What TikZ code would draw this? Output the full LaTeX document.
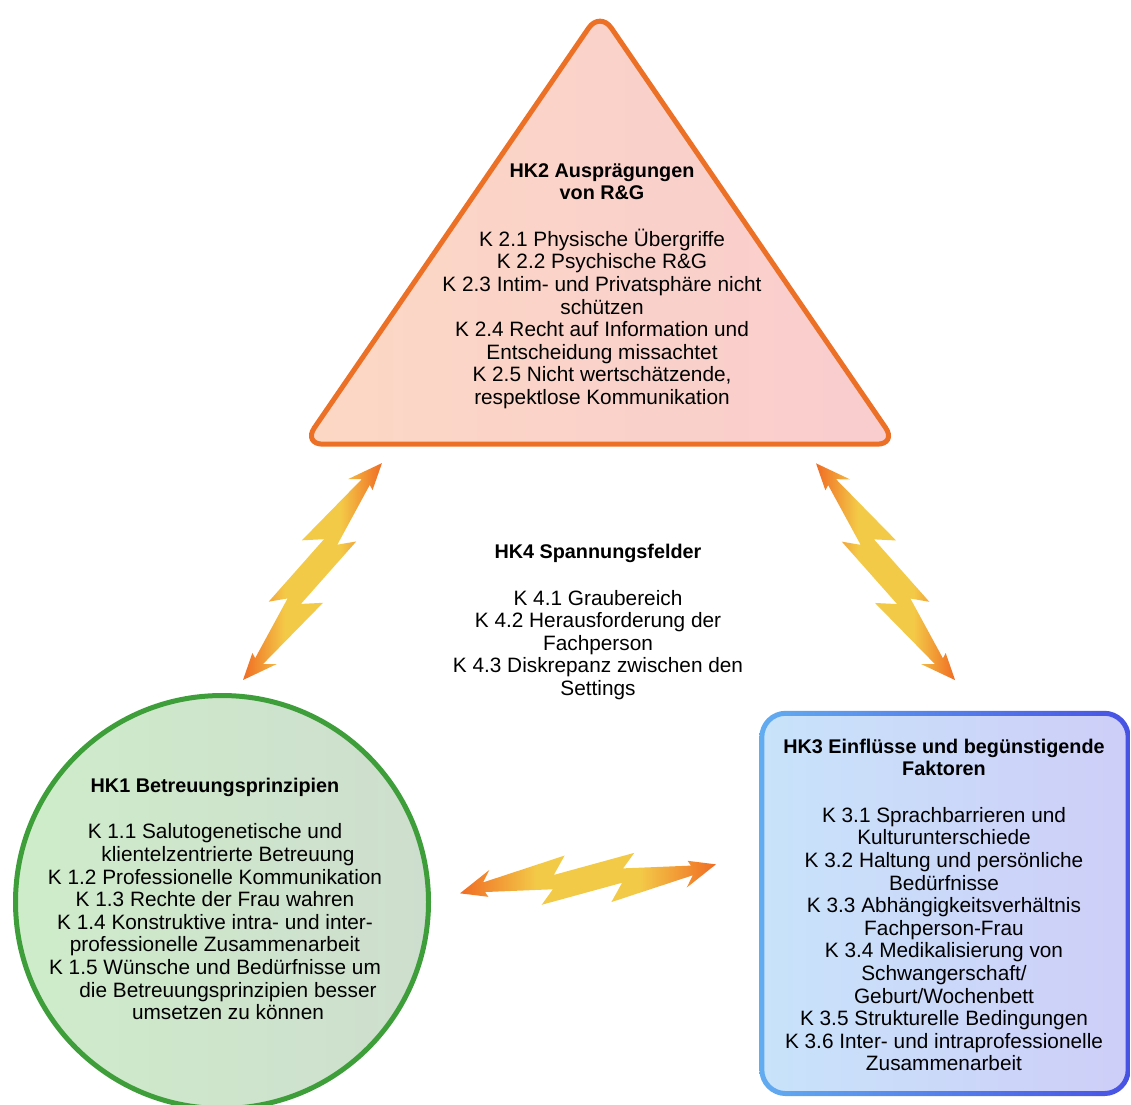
\documentclass[tikz,border=0pt]{standalone}
\usepackage{fontspec}
\setmainfont{Liberation Sans}
\usetikzlibrary{calc}

\definecolor{hkorange}{RGB}{236,112,38}
\definecolor{hkpeach}{RGB}{252,216,196}
\definecolor{hkpink}{RGB}{249,204,206}
\definecolor{hkgreen}{RGB}{62,158,58}
\definecolor{hkmint}{RGB}{206,236,202}
\definecolor{hkgrey}{RGB}{206,222,206}
\definecolor{hkblue}{RGB}{98,172,240}
\definecolor{hkviolet}{RGB}{72,82,228}
\definecolor{hksky}{RGB}{200,227,250}
\definecolor{hklilac}{RGB}{206,206,248}
\definecolor{boltend}{RGB}{240,108,36}
\definecolor{boltmid}{RGB}{243,202,72}

\pgfdeclarehorizontalshading{boltshade}{100bp}{color(0bp)=(boltend); color(25bp)=(boltend);
  color(40bp)=(boltmid); color(60bp)=(boltmid); color(75bp)=(boltend); color(100bp)=(boltend)}

\newcommand\hkhead[1]{{\fontsize{19.8}{22.6}\selectfont\bfseries #1}}

\tikzset{
  hktext/.style={align=center, inner sep=0pt, font=\fontsize{20.8}{22.6}\selectfont},
  hkline/.style={line width=5pt, line join=round},
  bolt/.pic={
    \shade[shading=boltshade]
      (0,0) -- (12.3,7.7) -- (9.4,3.2) -- (42,10) -- (37,3) -- (69,8)
      -- (64,2.5) -- (90.3,0.6) -- (89.2,2.6) -- (100,0) -- (87.7,-7.7)
      -- (90.6,-3.2) -- (58,-10) -- (63,-3) -- (31,-8) -- (36,-2.5)
      -- (9.7,-0.6) -- (10.8,-2.6) -- cycle;
  }
}

\begin{document}
\begin{tikzpicture}[x=1pt, y=1pt]
  \useasboundingbox (0,0) rectangle (1131,-1104);

  \draw[hkline, draw=hkorange, left color=hkpeach, right color=hkpink, rounded corners=20pt]
    (600,-444.2) -- (896.9,-444.2) -- (600,-11.5) -- (303.1,-444.2) -- cycle;
  \node[circle, minimum size=413pt, hkline, draw=hkgreen, left color=hkmint, right color=hkgrey] (hk1) at (222,-902) {};
  \node[rectangle, rounded corners=24pt, outer sep=0pt, minimum width=366.4pt, minimum height=380.3pt,
    left color=hksky, right color=hklilac] (hk3) at (945,-903.4) {};
  \shade[even odd rule, left color=hkblue, right color=hkviolet, rounded corners=26.5pt]
    ($(hk3.south west)+(-2.5,-2.5)$) rectangle ($(hk3.north east)+(2.5,2.5)$)
    [rounded corners=21.5pt] ($(hk3.south west)+(2.5,2.5)$) rectangle ($(hk3.north east)+(-2.5,-2.5)$);

  \node[hktext] (hk2) at (602,-286) {\hkhead{HK2 Ausprägungen}\\\hkhead{von R\&G}\\[24pt]
    K 2.1 Physische Übergriffe\\
    K 2.2 Psychische R\&G\\
    K 2.3 Intim- und Privatsphäre nicht\\
    schützen\\
    K 2.4 Recht auf Information und\\
    Entscheidung missachtet\\
    K 2.5 Nicht wertschätzende,\\
    respektlose Kommunikation};
  \node[hktext] (hk4) at (598,-622) {\hkhead{HK4 Spannungsfelder}\\[24pt]
    K 4.1 Graubereich\\
    K 4.2 Herausforderung der\\
    Fachperson\\
    K 4.3 Diskrepanz zwischen den\\
    Settings};
  \node[hktext] (hk1list) at (215,-899) {\hkhead{HK1 Betreuungsprinzipien}\\[24pt]
    K 1.1 Salutogenetische und\\
    \hspace*{26pt}klientelzentrierte Betreuung\\
    K 1.2 Professionelle Kommunikation\\
    K 1.3 Rechte der Frau wahren\\
    K 1.4 Konstruktive intra- und inter-\\
    professionelle Zusammenarbeit\\
    K 1.5 Wünsche und Bedürfnisse um\\
    \hspace*{26pt}die Betreuungsprinzipien besser\\
    \hspace*{26pt}umsetzen zu können};
  \node[hktext] (hk3list) at (944,-905) {\hkhead{HK3 Einflüsse und begünstigende}\\\hkhead{Faktoren}\\[24pt]
    K 3.1 Sprachbarrieren und\\
    Kulturunterschiede\\
    K 3.2 Haltung und persönliche\\
    Bedürfnisse\\
    K 3.3 Abhängigkeitsverhältnis\\
    Fachperson-Frau\\
    K 3.4 Medikalisierung von\\
    Schwangerschaft/\\
    Geburt/Wochenbett\\
    K 3.5 Strukturelle Bedingungen\\
    K 3.6 Inter- und intraprofessionelle\\
    Zusammenarbeit};

  \coordinate (bolt12) at (243,-680);
  \coordinate (bolt23) at (816,-463.3);
  \coordinate (bolt13) at (460,-893.3);
  \pic[scale=2.576, rotate=57.36, yscale=-1] at (bolt12) {bolt};
  \pic[scale=2.576, rotate=-57.32] at (bolt23) {bolt};
  \pic[scale=2.576, rotate=6.46] at (bolt13) {bolt};
\end{tikzpicture}
\end{document}
